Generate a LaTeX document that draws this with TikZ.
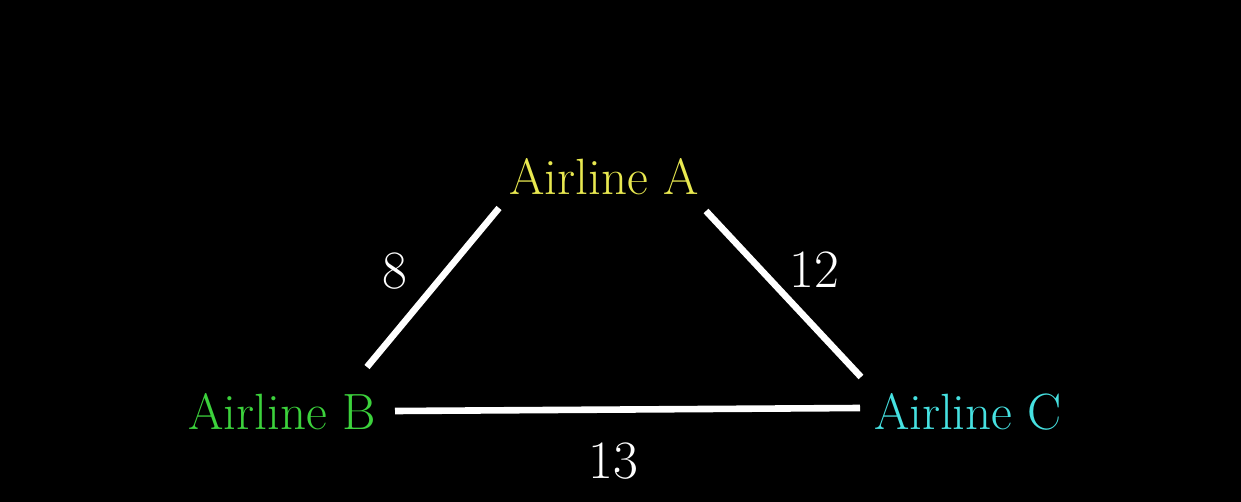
\documentclass[tikz,border=0pt]{standalone}
\usetikzlibrary{calc}
\definecolor{ayellow}{RGB}{232,232,80}
\definecolor{agreen}{RGB}{60,210,60}
\definecolor{acyan}{RGB}{70,225,225}
\begin{document}
\begin{tikzpicture}[x=0.5pt,y=-0.5pt,
  airline/.style={inner sep=0pt,font=\fontsize{25.5}{30}\selectfont},
  weight/.style={inner sep=0pt,text=white,font=\fontsize{27}{32}\selectfont},
  edge/.style={white,line width=3.3pt}]
\fill[black] (0,0) rectangle (1241,502);
\useasboundingbox (0,0) rectangle (1241,502);
\node[airline,text=ayellow] (A) at (604,177) {Airline A};
\node[airline,text=agreen] (B) at (282,412) {Airline B};
\node[airline,text=acyan] (C) at (968,412) {Airline C};
\node[weight] (w8) at (395,271) {8};
\node[weight] (w12) at (814,270) {12};
\node[weight] (w13) at (613,461) {13};
\draw[edge] ($(A.center)+(-105,31)$) -- ($(B.center)+(85,-45)$);
\draw[edge] ($(A.center)+(102,34)$) -- ($(C.center)+(-107,-35)$);
\draw[edge] ($(B.center)+(113,-1)$) -- ($(C.center)+(-108,-4)$);
\end{tikzpicture}
\end{document}
